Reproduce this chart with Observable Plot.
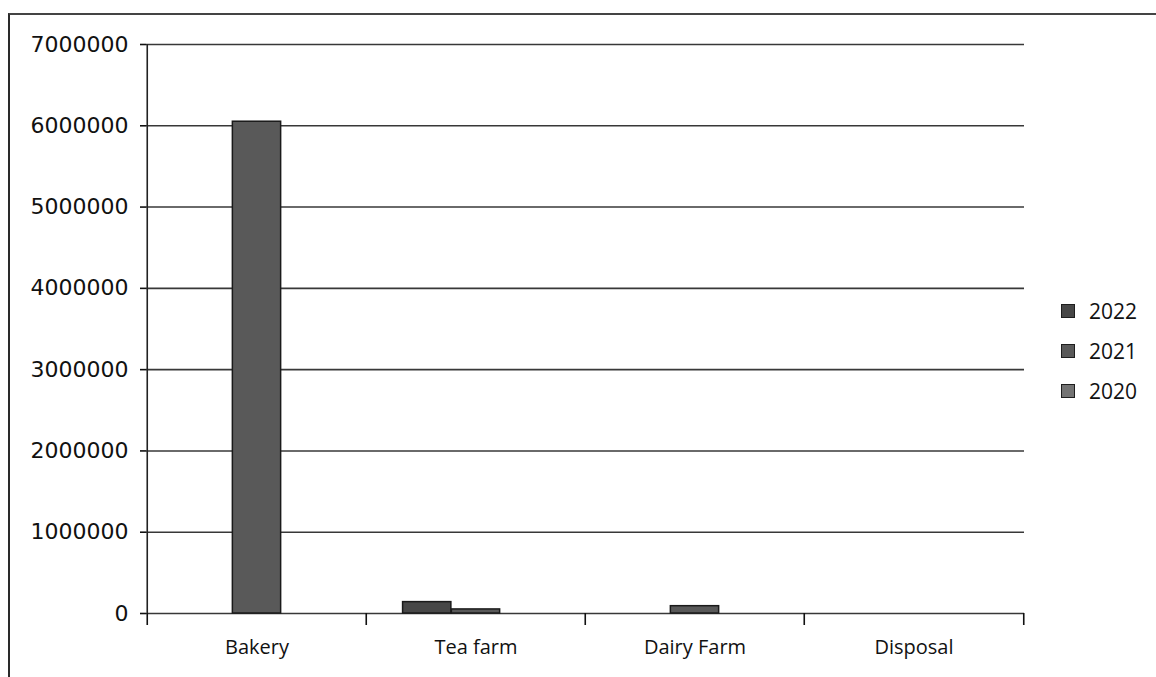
<!DOCTYPE html>
<html>
<head>
<meta charset="utf-8">
<script src="https://cdn.jsdelivr.net/npm/d3@7"></script>
<script src="https://cdn.jsdelivr.net/npm/@observablehq/plot@0.6"></script>
<style>
  body { margin: 0; background: #fff; }
  #wrap { position: relative; width: 1156px; height: 677px; overflow: hidden; background: #fff; }
  #box { position: absolute; left: 8px; top: 13px; width: 1200px; height: 720px;
         border-left: 2px solid #2a2a2a; border-top: 2px solid #444; }
  #chart { position: absolute; left: 0; top: 0; }
  #legend { position: absolute; left: 1061px; top: 291px; font-family: "Open Sans", sans-serif;
            font-size: 21px; color: #111; }
  .item { display: flex; align-items: center; height: 40px; }
  .sw { width: 12px; height: 12px; margin-right: 14px; border: 1px solid #1e1e1e; }
</style>
</head>
<body>
<div id="wrap">
  <div id="box"></div>
  <div id="chart"></div>
  <div id="legend"></div>
</div>
<script>
// Categories and yearly series
const categories = ["Bakery", "Tea farm", "Dairy Farm", "Disposal"];
const series = ["2022", "2021", "2020"];
const values2022 = [0, 140000, 0, 0];
const values2021 = [6050000, 50000, 90000, 0];
const values2020 = [0, 0, 0, 0];
const yTicks = [0, 1000000, 2000000, 3000000, 4000000, 5000000, 6000000, 7000000];
const seriesColors = ["#474747", "#595959", "#737373"];

const seriesValues = [values2022, values2021, values2020];
const rows = series.flatMap((s, i) =>
  categories.map((c, j) => ({ category: c, series: s, value: seriesValues[i][j] }))
);

// Layout
const W = 1156, H = 677;
const mL = 146, mR = 132, mT = 44, mB = 64;
const step = (W - mL - mR) / categories.length;
const barW = step / (series.length + 1.5); // clustered columns, 150% gap

const bars = series.map((s, i) =>
  Plot.barY(rows.filter(d => d.series === s && d.value > 0), {
    x: "category",
    y: "value",
    fill: "series",
    stroke: "#1a1a1a",
    strokeWidth: 1.5,
    insetLeft: barW * (0.75 + i),
    insetRight: barW * (0.75 + series.length - 1 - i)
  })
);

const chart = Plot.plot({
  width: W,
  height: H,
  marginLeft: mL,
  marginRight: mR,
  marginTop: mT,
  marginBottom: mB,
  style: { background: "transparent", color: "#111", overflow: "visible" },
  x: { domain: categories, padding: 0 },
  y: { domain: [0, 7000000] },
  color: { domain: series, range: seriesColors },
  marks: [
    Plot.gridY(yTicks, { stroke: "#383838", strokeOpacity: 1, strokeWidth: 1.6 }),
    ...bars,
    Plot.ruleX([categories[0]], { x: d => d, dx: -step / 2, stroke: "#222", strokeWidth: 1.6 }),
    Plot.axisY(yTicks, {
      tickSize: 6, tickPadding: 12, tickFormat: d3.format("d"),
      fontSize: 22, fontFamily: "DejaVu Sans", label: null, strokeWidth: 1.6
    }),
    Plot.axisX({ tickSize: 0, tickPadding: 26, fontSize: 20, fontFamily: "Open Sans", label: null }),
    Plot.axisX(categories, { tickSize: 12, tickFormat: () => "", dx: -step / 2, label: null, strokeWidth: 1.6 }),
    Plot.axisX([categories[categories.length - 1]], { tickSize: 12, tickFormat: () => "", dx: step / 2, label: null, strokeWidth: 1.6 })
  ]
});
document.getElementById("chart").append(chart);

// Legend listing the series, top to bottom
const legend = d3.select("#legend");
series.forEach((s, i) => {
  const item = legend.append("div").attr("class", "item");
  item.append("div").attr("class", "sw").style("background", seriesColors[i]);
  item.append("span").text(s);
});
</script>
</body>
</html>
